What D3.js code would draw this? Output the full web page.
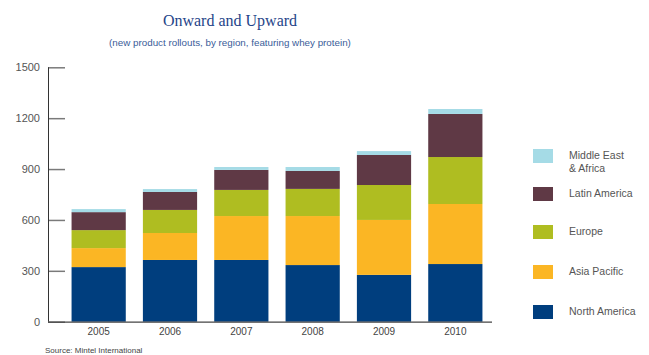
<!DOCTYPE html>
<html>
<head>
<meta charset="utf-8">
<script src="https://cdn.jsdelivr.net/npm/d3@7"></script>
<style>
body { margin: 0; background: #fff; }
svg text { font-family: "Liberation Sans", Arial, sans-serif; }
</style>
</head>
<body>
<div id="chart"></div>
<script>
var width = 649,
    height = 355;

var years = ["2005", "2006", "2007", "2008", "2009", "2010"];
var regions = ["North America", "Asia Pacific", "Europe", "Latin America", "Middle East & Africa"];
var northAmerica = [322, 364, 364, 334, 276, 340];
var asiaPacific = [112, 159, 259, 289, 324, 354];
var europe = [106, 136, 154, 160, 206, 277];
var latinAmerica = [106, 106, 118, 106, 177, 254];
var middleEast = [18, 17, 17, 23, 23, 29];
var yTicks = [0, 300, 600, 900, 1200, 1500];
var colors = ["#003e7e", "#fbb624", "#afbd21", "#5f3945", "#a5dbe6"];

var series = [northAmerica, asiaPacific, europe, latinAmerica, middleEast];
var rows = years.map(function(y, i) {
  var r = { year: y };
  regions.forEach(function(k, j) { r[k] = series[j][i]; });
  return r;
});
var stacked = d3.stack().keys(regions)(rows);

var svg = d3.select("#chart").append("svg")
    .attr("width", width)
    .attr("height", height);

var x = d3.scaleBand()
    .domain(years)
    .range([63, 491])
    .paddingInner(0.24)
    .paddingOuter(0.12);

var y = d3.scaleLinear()
    .domain([0, 1500])
    .range([321.7, 67.3]);

// title
svg.append("text")
    .attr("x", 230).attr("y", 26)
    .attr("text-anchor", "middle")
    .style("font-family", "'Liberation Serif', serif")
    .style("font-size", "16px")
    .style("fill", "#1f4589")
    .text("Onward and Upward");

svg.append("text")
    .attr("x", 230).attr("y", 46)
    .attr("text-anchor", "middle")
    .style("font-size", "9.8px")
    .style("fill", "#3a5d99")
    .text("(new product rollouts, by region, featuring whey protein)");

// bars
svg.selectAll("g.layer")
    .data(stacked)
  .enter().append("g")
    .attr("class", "layer")
    .attr("fill", function(d, i) { return colors[i]; })
  .selectAll("rect")
    .data(function(d) { return d; })
  .enter().append("rect")
    .attr("x", function(d) { return x(d.data.year); })
    .attr("width", x.bandwidth())
    .attr("y", function(d) { return y(d[1]); })
    .attr("height", function(d) { return y(d[0]) - y(d[1]); });

// y axis
var yAxis = svg.append("g")
    .attr("transform", "translate(48,0)")
    .call(d3.axisRight(y).tickValues(yTicks).tickSize(17).tickFormat(""));
yAxis.select(".domain").remove();
yAxis.selectAll(".tick line").attr("stroke", "#7a7a7a").attr("stroke-width", 1.5);

svg.append("line")
    .attr("x1", 48.5).attr("x2", 48.5)
    .attr("y1", y(1500)).attr("y2", y(0))
    .attr("stroke", "#333").attr("stroke-width", 1);

svg.selectAll("text.ylab")
    .data(yTicks)
  .enter().append("text")
    .attr("class", "ylab")
    .attr("x", 40)
    .attr("y", function(d) { return y(d) + 4; })
    .attr("text-anchor", "end")
    .style("font-size", "11px")
    .style("fill", "#555")
    .text(function(d) { return d; });

// x axis
svg.append("line")
    .attr("x1", 48).attr("x2", 492)
    .attr("y1", y(0) + 0.5).attr("y2", y(0) + 0.5)
    .attr("stroke", "#444").attr("stroke-width", 1.2);

svg.selectAll("text.xlab")
    .data(years)
  .enter().append("text")
    .attr("class", "xlab")
    .attr("x", function(d) { return x(d) + x.bandwidth() / 2; })
    .attr("y", 335)
    .attr("text-anchor", "middle")
    .style("font-size", "10px")
    .style("fill", "#444")
    .text(function(d) { return d; });

// legend
var legendLabels = [["Middle East", "& Africa"], ["Latin America"], ["Europe"], ["Asia Pacific"], ["North America"]];
var legendY = [149, 187, 225, 265, 305];
var legend = svg.selectAll("g.legend")
    .data(legendLabels)
  .enter().append("g")
    .attr("class", "legend")
    .attr("transform", function(d, i) { return "translate(533," + legendY[i] + ")"; });

legend.append("rect")
    .attr("width", 20).attr("height", 14)
    .attr("fill", function(d, i) { return colors[4 - i]; });

legend.each(function(d) {
  var g = d3.select(this);
  d.forEach(function(line, j) {
    g.append("text")
      .attr("x", 36)
      .attr("y", 10 + j * 13)
      .style("font-size", "10.5px")
      .style("fill", "#555")
      .text(line);
  });
});

svg.append("text")
    .attr("x", 45).attr("y", 353)
    .style("font-size", "8px")
    .style("fill", "#444")
    .text("Source: Mintel International");
</script>
</body>
</html>
